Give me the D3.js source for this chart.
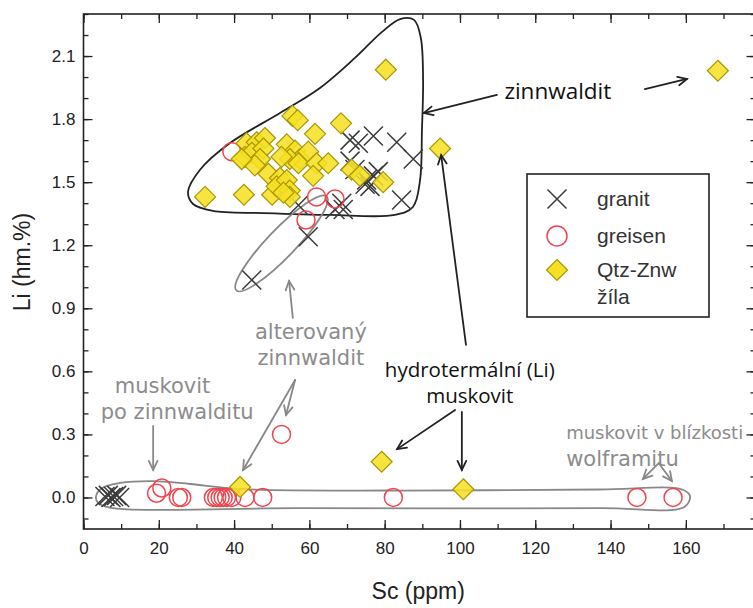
<!DOCTYPE html>
<html><head><meta charset="utf-8">
<script src="https://cdn.jsdelivr.net/npm/d3@7"></script>
<style>
html,body{margin:0;padding:0;background:#fff;}
svg{display:block;}
</style></head>
<body>
<svg id="chart" width="753" height="608"></svg>
<script>
// ---- data ----
const seriesNames = ["granit", "greisen", "Qtz-Znw žíla"];
const granitSc = [5.7, 6.6, 7.3, 8.0, 8.8, 9.6, 44.7, 59.7, 57.1, 66.8, 68.6, 69.0, 70.8, 73.0, 77.0, 83.2, 87.6, 70.8, 72.1, 75.2, 77.0, 78.3, 76.1, 74.8, 84.5];
const granitLi = [0.005, 0.01, 0.0, 0.005, 0.01, 0.0, 1.035, 1.24, 1.39, 1.37, 1.40, 1.37, 1.70, 1.685, 1.72, 1.69, 1.61, 1.60, 1.56, 1.51, 1.53, 1.55, 1.48, 1.49, 1.415];
const greisenSc = [39.4, 61.9, 66.8, 59.1, 52.6, 19.4, 20.8, 25.2, 26.1, 34.5, 35.4, 36.3, 37.1, 38.0, 39.4, 42.9, 47.6, 82.3, 147.0, 156.6];
const greisenLi = [1.645, 1.43, 1.42, 1.32, 0.30, 0.02, 0.045, 0.0, 0.0, 0.0, 0.0, 0.0, 0.0, 0.0, 0.0, 0.0, 0.0, 0.0, 0.0, 0.0];
const veinSc = [80.3, 168.5, 94.7, 55.5, 56.9, 61.5, 68.4, 32.3, 42.6, 50.1, 43.3, 46.0, 48.2, 42.9, 44.7, 47.8, 46.9, 45.5, 42.0, 54.0, 56.2, 57.5, 59.7, 54.8, 57.1, 52.6, 61.9, 65.0, 61.0, 49.1, 52.2, 51.3, 54.0, 54.8, 54.8, 53.1, 71.2, 73.4, 79.6, 41.6, 79.2, 100.9];
const veinLi = [2.035, 2.03, 1.66, 1.815, 1.795, 1.73, 1.78, 1.43, 1.44, 1.44, 1.685, 1.69, 1.71, 1.62, 1.64, 1.66, 1.61, 1.58, 1.61, 1.68, 1.65, 1.61, 1.645, 1.61, 1.59, 1.62, 1.59, 1.59, 1.53, 1.54, 1.52, 1.48, 1.51, 1.46, 1.43, 1.45, 1.56, 1.53, 1.50, 0.05, 0.17, 0.039];
const xTicks = [0, 20, 40, 60, 80, 100, 120, 140, 160];
const yTicks = [0.0, 0.3, 0.6, 0.9, 1.2, 1.5, 1.8, 2.1];
const xLabel = "Sc (ppm)";
const yLabel = "Li (hm.%)";

// annotation outlines (data units)
const zinnEnvelope = [[27.76,1.453],[30.9,1.558],[38.9,1.686],[52.2,1.829],[62.8,1.948],[72.1,2.091],[79.3,2.215],[84.1,2.276],[87.8,2.272],[89.6,2.186],[90.2,1.986],[89.9,1.748],[89.4,1.510],[87.5,1.382],[82.7,1.344],[65.5,1.344],[47.7,1.353],[34.4,1.363],[29.1,1.396]];
const muskEnvelope = [[3.3,0.002],[4.9,0.045],[9.7,0.069],[18.5,0.078],[28.3,0.064],[41.6,0.040],[84.1,0.033],[137.2,0.038],[159.0,0.038],[161.1,0.007],[159.6,-0.045],[137.2,-0.051],[57.5,-0.051],[7.0,-0.048],[3.9,-0.026]];
const alterEllipseEnds = [[40.6,0.985],[64.6,1.432]];
const blackArrows = [[[109.8,1.915],[90.4,1.829]],[[149.1,1.943],[160.3,1.991]],[[101.6,0.726],[95.0,1.629]],[[98.7,0.416],[83.3,0.23]],[[100.5,0.407],[100.5,0.131]]];
const grayArrows = [[[18.5,0.340],[18.5,0.131]],[[55.6,0.854],[54.6,1.030]],[[56.2,0.559],[53.8,0.392]],[[56.2,0.559],[42.4,0.131]],[[152.8,0.163],[148.6,0.088]],[[152.8,0.163],[156.3,0.078]]];
// labels: lines [text, Sc, fontSize], Li of first line, anchor
const blackLabels = [
  [[["zinnwaldit", 126.0, 22.5]], 1.935, "middle"],
  [[["hydrotermální (Li)", 102.6, 20.5], ["muskovit", 102.6, 20.5]], 0.605, "middle"]
];
const grayLabels = [
  [[["alterovaný", 60.4, 21], ["zinnwaldit", 60.4, 21]], 0.787, "middle"],
  [[["muskovit", 21.0, 21], ["po zinnwalditu", 24.9, 21]], 0.533, "middle"],
  [[["muskovit v blízkosti", 128.2, 18], ["wolframitu", 128.2, 21]], 0.307, "start"]
];

// ---- chart ----
const svg = d3.select("#chart");
const L = 83.5, R = 755.5, T = 14, B = 529;
const x = d3.scaleLinear().domain([0, 178.5]).range([L, R]);
const y = d3.scaleLinear().domain([-0.15, 2.3]).range([B, T]);

const axisFont = "'Liberation Sans', Arial, sans-serif";
const annFont = "'Open Sans', 'DejaVu Sans', sans-serif";
const grayFont = "'DejaVu Sans', Verdana, sans-serif";

const xMinor = d3.range(0, 179, 10);
const yMinor = d3.range(-0.1, 2.31, 0.1).map(v => +v.toFixed(2));

function styleAxis(g) {
  g.selectAll("path.domain").remove();
  g.selectAll("line").attr("stroke", "#222").attr("stroke-width", 1.3);
}
// bottom
svg.append("g").attr("transform", `translate(0,${B})`)
  .call(d3.axisBottom(x).tickValues(xMinor).tickSize(-5).tickFormat("")).call(styleAxis);
svg.append("g").attr("transform", `translate(0,${B})`)
  .call(d3.axisBottom(x).tickValues(xTicks).tickSize(-9).tickPadding(13).tickFormat(d3.format("d"))).call(styleAxis)
  .selectAll("text").attr("font-family", axisFont).attr("font-size", 17).attr("fill", "#222");
// top
svg.append("g").attr("transform", `translate(0,${T})`)
  .call(d3.axisTop(x).tickValues(xMinor).tickSize(-5).tickFormat("")).call(styleAxis);
svg.append("g").attr("transform", `translate(0,${T})`)
  .call(d3.axisTop(x).tickValues(xTicks).tickSize(-9).tickFormat("")).call(styleAxis);
// left
svg.append("g").attr("transform", `translate(${L},0)`)
  .call(d3.axisLeft(y).tickValues(yMinor).tickSize(-5).tickFormat("")).call(styleAxis);
svg.append("g").attr("transform", `translate(${L},0)`)
  .call(d3.axisLeft(y).tickValues(yTicks).tickSize(-9).tickPadding(8).tickFormat(d3.format(".1f"))).call(styleAxis)
  .selectAll("text").attr("font-family", axisFont).attr("font-size", 17).attr("fill", "#222");
// right
svg.append("g").attr("transform", `translate(${R},0)`)
  .call(d3.axisRight(y).tickValues(yMinor).tickSize(-5).tickFormat("")).call(styleAxis);
svg.append("g").attr("transform", `translate(${R},0)`)
  .call(d3.axisRight(y).tickValues(yTicks).tickSize(-9).tickFormat("")).call(styleAxis);

svg.append("rect").attr("x", L).attr("y", T).attr("width", R - L).attr("height", B - T)
  .attr("fill", "none").attr("stroke", "#222").attr("stroke-width", 1.6);

// axis titles
svg.append("text").attr("x", (L + 753) / 2).attr("y", 599).attr("text-anchor", "middle")
  .attr("font-family", axisFont).attr("font-size", 23).attr("fill", "#222").text(xLabel);
svg.append("text").attr("transform", `translate(30,262) rotate(-90)`).attr("text-anchor", "middle")
  .attr("font-family", axisFont).attr("font-size", 23).attr("fill", "#222").text(yLabel);

// outlines
const closedLine = d3.line().x(d => x(d[0])).y(d => y(d[1])).curve(d3.curveCatmullRomClosed.alpha(0.5));
svg.append("path").attr("d", closedLine(zinnEnvelope)).attr("fill", "none").attr("stroke", "#222").attr("stroke-width", 1.8);
svg.append("path").attr("d", closedLine(muskEnvelope)).attr("fill", "none").attr("stroke", "#888").attr("stroke-width", 1.8);
{
  const p1 = [x(alterEllipseEnds[0][0]), y(alterEllipseEnds[0][1])];
  const p2 = [x(alterEllipseEnds[1][0]), y(alterEllipseEnds[1][1])];
  const cx = (p1[0] + p2[0]) / 2, cy = (p1[1] + p2[1]) / 2;
  const a = Math.hypot(p2[0] - p1[0], p2[1] - p1[1]) / 2;
  const ang = Math.atan2(p2[1] - p1[1], p2[0] - p1[0]) * 180 / Math.PI;
  svg.append("ellipse").attr("cx", 0).attr("cy", 0).attr("rx", a).attr("ry", 14)
    .attr("transform", `translate(${cx},${cy}) rotate(${ang})`)
    .attr("fill", "none").attr("stroke", "#888").attr("stroke-width", 1.8);
}

// markers
const crossPath = "M-9.5,-9.5L9.5,9.5M-9.5,9.5L9.5,-9.5";
const diamondPath = "M0,-10.5L10.5,0L0,10.5L-10.5,0Z";
svg.append("g").selectAll("path").data(granitSc).join("path")
  .attr("transform", (d, i) => `translate(${x(d)},${y(granitLi[i])})`)
  .attr("d", crossPath).attr("stroke", "#3a3a3a").attr("stroke-width", 1.5).attr("fill", "none");
svg.append("g").selectAll("circle").data(greisenSc).join("circle")
  .attr("cx", d => x(d)).attr("cy", (d, i) => y(greisenLi[i])).attr("r", 9)
  .attr("fill", "none").attr("stroke", "#f0454e").attr("stroke-width", 1.5);
svg.append("g").selectAll("path").data(veinSc).join("path")
  .attr("transform", (d, i) => `translate(${x(d)},${y(veinLi[i])})`)
  .attr("d", diamondPath).attr("fill", "#f6e026").attr("fill-opacity", 0.88)
  .attr("stroke", "#a99800").attr("stroke-width", 1.2);

// arrows
function drawArrow(a, color) {
  const x1 = x(a[0][0]), y1 = y(a[0][1]), x2 = x(a[1][0]), y2 = y(a[1][1]);
  const ang = Math.atan2(y2 - y1, x2 - x1);
  const h = 10, w = 0.45;
  const g = svg.append("g").attr("stroke", color).attr("stroke-width", 1.8).attr("fill", "none").attr("stroke-linecap", "round");
  g.append("line").attr("x1", x1).attr("y1", y1).attr("x2", x2).attr("y2", y2);
  g.append("path").attr("d",
    `M${x2 - h * Math.cos(ang - w)},${y2 - h * Math.sin(ang - w)}L${x2},${y2}L${x2 - h * Math.cos(ang + w)},${y2 - h * Math.sin(ang + w)}`);
}
blackArrows.forEach(a => drawArrow(a, "#222"));
grayArrows.forEach(a => drawArrow(a, "#888"));

// annotation labels (multi-line as one text element)
function annLabel(lab, color, gap, font) {
  const t = svg.append("text").attr("text-anchor", lab[2]).attr("font-family", font).attr("fill", color);
  lab[0].forEach((ln, i) => {
    t.append("tspan").attr("x", x(ln[1])).attr("y", y(lab[1]) + i * gap)
      .attr("dy", "0.35em").attr("font-size", ln[2]).text(ln[0]);
  });
}
blackLabels.forEach(l => annLabel(l, "#111", 26, annFont));
grayLabels.forEach(l => annLabel(l, "#8c8c8c", 26, grayFont));

// legend
const lg = svg.append("g");
lg.append("rect").attr("x", 527).attr("y", 174).attr("width", 182).attr("height", 143)
  .attr("fill", "#fff").attr("stroke", "#222").attr("stroke-width", 1.6);
lg.append("path").attr("transform", "translate(557,199)").attr("d", crossPath).attr("stroke", "#3a3a3a").attr("stroke-width", 1.5);
lg.append("circle").attr("cx", 557).attr("cy", 236).attr("r", 10).attr("fill", "none").attr("stroke", "#f0454e").attr("stroke-width", 1.5);
lg.append("path").attr("transform", "translate(557,270)").attr("d", diamondPath).attr("fill", "#f6e026").attr("stroke", "#a99800").attr("stroke-width", 1.2);
const legendText = lg.append("text").attr("font-family", axisFont).attr("font-size", 21).attr("fill", "#333");
[[seriesNames[0], 199], [seriesNames[1], 236], ["Qtz-Znw", 270], ["žíla", 297]].forEach(l =>
  legendText.append("tspan").attr("x", 597).attr("y", l[1]).attr("dy", "0.35em").text(l[0]));
</script>
</body></html>
